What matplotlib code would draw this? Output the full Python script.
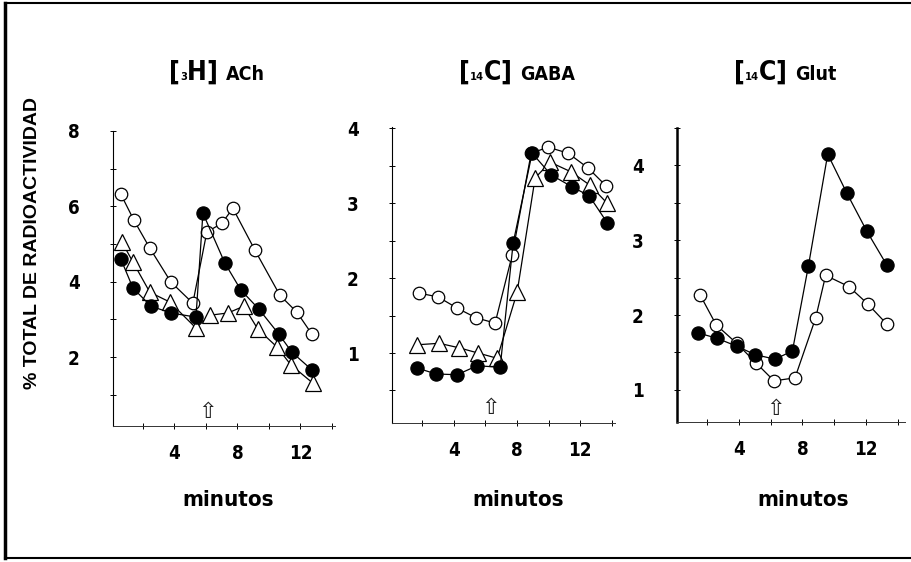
import numpy as np
import matplotlib
matplotlib.use("Agg")
import matplotlib.pyplot as plt
from matplotlib.offsetbox import TextArea, HPacker, AnnotationBbox
from matplotlib.lines import Line2D

NARROW = dict(family="DejaVu Sans", stretch="condensed", fontweight="bold")

# ---- [3H] ACh ----
ach_open_x = [0.6, 1.43, 2.44, 3.78, 5.17, 6.06, 7.02, 7.71, 9.11, 10.7, 11.78, 12.73]
ach_open_y = [6.32, 5.63, 4.89, 3.99, 3.43, 5.32, 5.55, 5.95, 4.84, 3.64, 3.19, 2.61]
ach_fill_x = [0.6, 1.37, 2.51, 3.78, 5.37, 5.81, 7.21, 8.22, 9.37, 10.63, 11.46, 12.73]
ach_fill_y = [4.6, 3.83, 3.35, 3.17, 3.06, 5.82, 4.49, 3.78, 3.27, 2.61, 2.13, 1.66]
ach_tri_x = [0.67, 1.37, 2.44, 3.71, 5.37, 6.25, 7.4, 8.41, 9.3, 10.51, 11.4, 12.79]
ach_tri_y = [5.05, 4.52, 3.72, 3.46, 2.77, 3.11, 3.17, 3.35, 2.74, 2.27, 1.79, 1.31]

# ---- [14C] GABA ----
gaba_open_x = [1.81, 3.01, 4.22, 5.42, 6.62, 7.7, 8.9, 9.97, 11.24, 12.51, 13.65]
gaba_open_y = [1.8, 1.75, 1.6, 1.47, 1.4, 2.31, 3.67, 3.75, 3.67, 3.47, 3.23]
gaba_fill_x = [1.68, 2.89, 4.22, 5.48, 6.94, 7.76, 8.96, 10.16, 11.49, 12.57, 13.71]
gaba_fill_y = [0.8, 0.72, 0.71, 0.83, 0.81, 2.47, 3.67, 3.38, 3.22, 3.1, 2.74]
gaba_tri_x = [1.68, 3.08, 4.34, 5.54, 6.75, 8.01, 9.15, 10.1, 11.43, 12.63, 13.71]
gaba_tri_y = [1.11, 1.13, 1.07, 1.0, 0.93, 1.81, 3.34, 3.55, 3.42, 3.24, 3.0]

# ---- [14C] Glut ----
glut_open_x = [1.56, 2.57, 3.87, 5.08, 6.21, 7.53, 8.83, 9.46, 10.92, 12.1, 13.3]
glut_open_y = [2.27, 1.87, 1.62, 1.36, 1.12, 1.16, 1.96, 2.53, 2.38, 2.15, 1.88]
glut_fill_x = [1.45, 2.61, 3.91, 5.02, 6.28, 7.37, 8.37, 9.59, 10.79, 12.05, 13.3]
glut_fill_y = [1.76, 1.69, 1.58, 1.47, 1.41, 1.52, 2.65, 4.15, 3.63, 3.12, 2.67]

x_ticks = [2, 4, 6, 8, 10, 12, 14]
x_labels = [4, 8, 12]

STYLE = {
    "open": dict(marker="o", mfc="white", mec="black", ms=9, mew=0.9),
    "tri": dict(marker="^", mfc="white", mec="black", ms=11.5, mew=0.9),
    "fill": dict(marker="o", mfc="black", mec="black", ms=9.5, mew=0.9),
}

W, H = 912, 562


def rect(l, r, t, b):
    return [l / W, 1 - b / H, (r - l) / W, (b - t) / H]


panels = [
    dict(rect=rect(113, 335, 131, 426), xlim=(0.1, 14.2), ylim=(0.17, 8.0),
         yminor=np.arange(1, 8.5, 1), ymajor=[2, 4, 6, 8], spine=0.8,
         arrow=(6.13, 0.55), title=("3", "H", "ACh"), tx=217, mx=228,
         series=[(ach_open_x, ach_open_y, "open"), (ach_tri_x, ach_tri_y, "tri"),
                 (ach_fill_x, ach_fill_y, "fill")]),
    dict(rect=rect(392, 615, 127, 423), xlim=(0.1, 14.2), ylim=(0.065, 4.02),
         yminor=np.arange(0.5, 4.01, 0.5), ymajor=[1, 2, 3, 4], spine=0.8,
         arrow=(6.3, 0.26), title=("14", "C", "GABA"), tx=517, mx=518,
         series=[(gaba_open_x, gaba_open_y, "open"), (gaba_tri_x, gaba_tri_y, "tri"),
                 (gaba_fill_x, gaba_fill_y, "fill")]),
    dict(rect=rect(677, 905, 128, 422), xlim=(0.11, 14.45), ylim=(0.57, 4.49),
         yminor=np.arange(1, 4.6, 0.5), ymajor=[1, 2, 3, 4], spine=1.8,
         arrow=(6.28, 0.75), title=("14", "C", "Glut"), tx=785, mx=803,
         series=[(glut_open_x, glut_open_y, "open"), (glut_fill_x, glut_fill_y, "fill")]),
]

fig = plt.figure(figsize=(9.12, 5.62), dpi=100)

for p in panels:
    ax = fig.add_axes(p["rect"])
    for xs, ys, kind in p["series"]:
        ax.plot(xs, ys, color="black", lw=0.9, **STYLE[kind])
    ax.set_xlim(*p["xlim"])
    ax.set_ylim(*p["ylim"])
    for s in ["top", "right"]:
        ax.spines[s].set_visible(False)
    ax.spines["left"].set_linewidth(p["spine"])
    ax.spines["bottom"].set_linewidth(0.7)
    ax.spines["bottom"].set_color("#333333")
    ax.set_xticks(x_ticks, minor=True)
    ax.set_xticks(x_labels)
    ax.set_xticklabels([str(v) for v in x_labels])
    ax.set_yticks(p["yminor"], minor=True)
    ax.set_yticks(p["ymajor"])
    ax.set_yticklabels([str(v) for v in p["ymajor"]])
    ax.tick_params(which="both", direction="inout", length=4, width=0.7)
    ax.tick_params(axis="x", pad=11)
    ax.tick_params(axis="y", pad=22)
    for lab in ax.get_xticklabels() + ax.get_yticklabels():
        lab.set(**NARROW)
        lab.set_fontsize(13.5)
    ax.text(p["arrow"][0], p["arrow"][1], "\u21e7", ha="center", va="center",
            fontsize=16, family="DejaVu Sans", color="#222222")

    # title like [3H] ACh
    num, big, rest = p["title"]
    parts = [
        TextArea("[", textprops=dict(fontsize=19, **NARROW)),
        TextArea(num, textprops=dict(fontsize=8, **NARROW)),
        TextArea(big, textprops=dict(fontsize=19, **NARROW)),
        TextArea("] ", textprops=dict(fontsize=19, **NARROW)),
        TextArea(rest, textprops=dict(fontsize=14, **NARROW)),
    ]
    box = HPacker(children=parts, align="baseline", pad=0, sep=0)
    ab = AnnotationBbox(box, (p["tx"] / W, 1 - 73 / H), xycoords="figure fraction",
                        frameon=False, box_alignment=(0.5, 0.5))
    fig.add_artist(ab)

    fig.text(p["mx"] / W, 1 - 500 / H, "minutos", ha="center", va="center",
             fontsize=16, **NARROW)

fig.text(33 / W, 1 - 243 / H, "% TOTAL DE RADIOACTIVIDAD", rotation=90,
         ha="center", va="center", fontsize=14, fontweight="bold",
         family=["Liberation Sans", "DejaVu Sans"])

# scanned frame
fig.add_artist(Line2D([0.005, 0.005], [0.008, 0.995], transform=fig.transFigure, lw=2.5, color="black"))
fig.add_artist(Line2D([0.005, 0.999], [0.994, 0.994], transform=fig.transFigure, lw=1.5, color="black"))
fig.add_artist(Line2D([0.005, 0.999], [0.008, 0.008], transform=fig.transFigure, lw=1.5, color="black"))

fig.savefig("out.png", dpi=100)
